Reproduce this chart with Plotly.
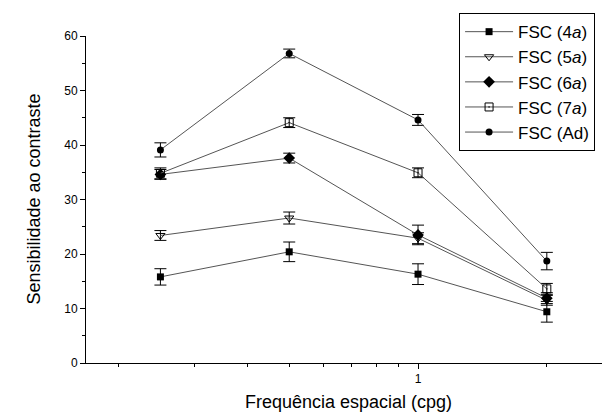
import plotly.graph_objects as go

freq = [0.25, 0.5, 1, 2]

names = ["FSC (4<i>a</i>)", "FSC (5<i>a</i>)", "FSC (6<i>a</i>)", "FSC (7<i>a</i>)", "FSC (Ad)"]
vals_4a = [15.8, 20.4, 16.3, 9.4]
err_4a = [1.5, 1.8, 1.9, 1.9]
vals_5a = [23.4, 26.6, 22.9, 11.5]
err_5a = [0.9, 1.1, 1.0, 0.9]
vals_6a = [34.6, 37.6, 23.5, 11.9]
err_6a = [0.9, 0.9, 1.8, 1.0]
vals_7a = [34.8, 44.1, 34.9, 13.6]
err_7a = [1.0, 0.9, 0.9, 1.0]
vals_ad = [39.1, 56.8, 44.6, 18.7]
err_ad = [1.3, 0.8, 1.0, 1.6]

series = [
    (names[0], vals_4a, err_4a, dict(symbol="square", size=7, color="black")),
    (names[1], vals_5a, err_5a, dict(symbol="triangle-down-open", size=8, color="black", line=dict(width=1, color="black"))),
    (names[2], vals_6a, err_6a, dict(symbol="diamond", size=9, color="black")),
    (names[3], vals_7a, err_7a, dict(symbol="square-open-dot", size=8, color="black", line=dict(width=1, color="black"))),
    (names[4], vals_ad, err_ad, dict(symbol="circle", size=7, color="black")),
]

FONT = "Arial, Liberation Sans, sans-serif"

fig = go.Figure()
for i, (nm, v, e, mk) in enumerate(series):
    fig.add_trace(go.Scatter(
        x=freq, y=v, name=nm, mode="lines+markers",
        line=dict(color="#555555", width=1),
        marker=mk,
        error_y=dict(type="data", array=e, visible=True, color="black", thickness=1, width=6),
    ))

fig.update_layout(
    width=602, height=414,
    margin=dict(l=86, r=0, t=36, b=51, autoexpand=False),
    paper_bgcolor="white", plot_bgcolor="white",
    font=dict(family=FONT, color="black"),
    showlegend=True,
    legend=dict(
        x=0.723, y=1.070, xanchor="left", yanchor="top",
        bordercolor="black", borderwidth=1, bgcolor="white",
        font=dict(size=17, family=FONT, color="black"),
        itemwidth=48,
    ),
    xaxis=dict(
        type="log", range=[-0.776, 0.43],
        showgrid=False, zeroline=False,
        showline=True, linecolor="black", linewidth=1,
        ticks="outside", ticklen=5, tickcolor="black",
        tickmode="array", tickvals=[1], ticktext=["1"],
        tickfont=dict(size=12, family=FONT),
        minor=dict(tickmode="array", tickvals=[0.2, 0.3, 0.4, 0.5, 0.6, 0.7, 0.8, 0.9, 2],
                   ticks="outside", ticklen=3, tickcolor="black", showgrid=False),
    ),
    yaxis=dict(
        range=[0, 60],
        showgrid=False, zeroline=False,
        showline=True, linecolor="black", linewidth=1,
        ticks="outside", ticklen=5, tickcolor="black",
        tickmode="array", tickvals=[0, 10, 20, 30, 40, 50, 60],
        tickfont=dict(size=12, family=FONT),
        minor=dict(tickmode="array", tickvals=[5, 15, 25, 35, 45, 55],
                   ticks="outside", ticklen=3, tickcolor="black", showgrid=False),
    ),
    annotations=[
        dict(text="Sensibilidade ao contraste", xref="paper", yref="paper",
             x=-0.1027, y=0.5, textangle=-90, showarrow=False,
             xanchor="center", yanchor="middle", font=dict(size=18, family=FONT)),
        dict(text="Frequência espacial (cpg)", xref="paper", yref="paper",
             x=0.508, y=-0.12, showarrow=False,
             xanchor="center", yanchor="middle", font=dict(size=18, family=FONT)),
    ],
)

fig.write_html("out.html", config={"displayModeBar": False},
               post_script="document.body.style.margin='0';document.body.style.overflow='hidden';")
